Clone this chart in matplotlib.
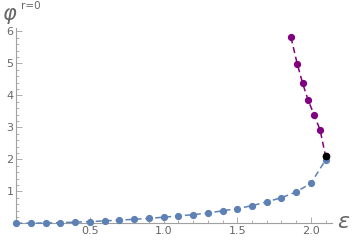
import numpy as np
import matplotlib.pyplot as plt
from matplotlib.ticker import MultipleLocator

#### data
eps_blue = [0.0, 0.1, 0.2, 0.3, 0.4, 0.5, 0.6, 0.7, 0.8, 0.9, 1.0,
            1.1, 1.2, 1.3, 1.4, 1.5, 1.6, 1.7, 1.8, 1.9, 2.0, 2.1]
phi_blue = [0.0, 0.003, 0.01, 0.02, 0.035, 0.055, 0.075, 0.10, 0.125, 0.155, 0.19,
            0.23, 0.27, 0.32, 0.39, 0.46, 0.55, 0.67, 0.80, 0.98, 1.25, 1.98]
eps_purple = [1.865, 1.907, 1.944, 1.982, 2.023, 2.062, 2.10]
phi_purple = [5.81, 4.99, 4.375, 3.84, 3.375, 2.925, 2.10]
eps_black = [2.10]
phi_black = [2.10]

gray = '#a0a0a0'
label_gray = '#666666'

fig = plt.figure(figsize=(3.54, 2.41), dpi=100)
ax = fig.add_axes([16.3 / 354, 17.7 / 241, 315.2 / 354, 195.2 / 241])

ax.plot(eps_blue, phi_blue, '--', color='#5E81B5', lw=1.1, dashes=(4, 2.5),
        marker='o', ms=4.2, clip_on=False, zorder=3)
ax.plot(eps_purple, phi_purple, '--', color='#800080', lw=1.1, dashes=(4, 2.5),
        marker='o', ms=4.2, clip_on=False, zorder=4)
ax.plot(eps_black, phi_black, 'o', color='black', ms=4.5, clip_on=False, zorder=5)

ax.set_xlim(0, 2.14)
ax.set_ylim(0, 6.1)

#### Mathematica-like axes
for side in ['top', 'right']:
    ax.spines[side].set_visible(False)
for side in ['left', 'bottom']:
    ax.spines[side].set_color(gray)
    ax.spines[side].set_linewidth(0.8)

ax.xaxis.set_major_locator(MultipleLocator(0.5))
ax.xaxis.set_minor_locator(MultipleLocator(0.1))
ax.yaxis.set_major_locator(MultipleLocator(1))
ax.yaxis.set_minor_locator(MultipleLocator(0.2))
ax.set_xticks([0.5, 1.0, 1.5, 2.0])
ax.set_xticklabels(['0.5', '1.0', '1.5', '2.0'])
ax.set_yticks([1, 2, 3, 4, 5, 6])
ax.set_yticklabels(['1', '2', '3', '4', '5', '6'])

ax.tick_params(which='both', direction='in', color=gray, labelcolor=label_gray,
               labelsize=8, width=0.6)
ax.tick_params(which='major', length=4, pad=2)
ax.tick_params(which='minor', length=2)

fig.text(2 / 354, 1 - 16 / 241, r'$\varphi$', fontsize=15, color=label_gray,
         va='center', ha='left')
fig.text(21 / 354, 1 - 6 / 241, 'r=0', fontsize=7.5, color=label_gray,
         va='center', ha='left')
fig.text(344 / 354, 1 - 222 / 241, r'$\varepsilon$', fontsize=16, color=label_gray,
         va='center', ha='center')

fig.savefig('out.png', dpi=100)
